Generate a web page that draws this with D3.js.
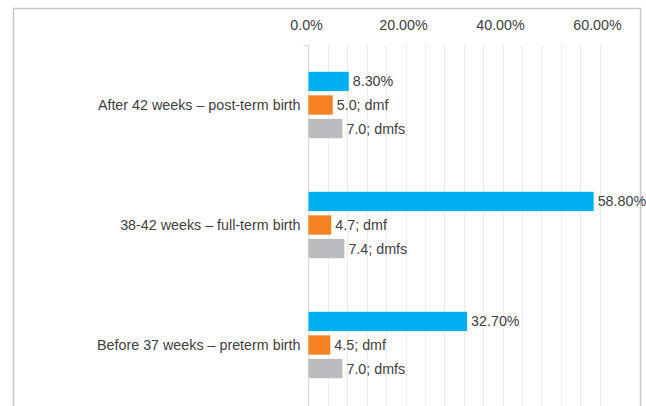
<!DOCTYPE html>
<html>
<head>
<meta charset="utf-8">
<script src="https://cdn.jsdelivr.net/npm/d3@7"></script>
<style>
body { margin:0; background:#fff; }
text { font-family: "Liberation Sans", Arial, sans-serif; fill:#404040; }
</style>
</head>
<body>
<svg width="646" height="406"></svg>
<script>
// categories top to bottom
var categories = ["After 42 weeks \u2013 post-term birth", "38-42 weeks \u2013 full-term birth", "Before 37 weeks \u2013 preterm birth"];
var series = ["share", "dmf", "dmfs"];
var shareValues = [8.3, 58.8, 32.7];
var dmfValues = [5.0, 4.7, 4.5];
var dmfsValues = [7.0, 7.4, 7.0];
var tickValues = [0, 20, 40, 60];
var tickLabels = ["0.0%", "20.00%", "40.00%", "60.00%"];
var colors = ["#00b0f0", "#f58220", "#bcbcc0"];

var svg = d3.select("svg");

// frame
svg.append("rect")
    .attr("x", 13.5).attr("y", 8.5)
    .attr("width", 627).attr("height", 420)
    .attr("fill", "none")
    .attr("stroke", "#c8c8cc")
    .attr("stroke-width", 1.5);

var x = d3.scaleLinear().domain([0, 60]).range([308.5, 599.5]);
var y = d3.scaleBand().domain(categories).range([45, 405]);
var inner = d3.scaleBand().domain(series).range([-33.2, 33.2]).paddingInner(0.18);

// gridlines every 4%
var g = svg.append("g");
g.selectAll("line.grid")
    .data(d3.range(4, 61, 4))
    .enter().append("line")
    .attr("class", "grid")
    .attr("x1", function(d) { return Math.round(x(d)) + 0.5; })
    .attr("x2", function(d) { return Math.round(x(d)) + 0.5; })
    .attr("y1", 45).attr("y2", 406)
    .attr("stroke", "#ececec");

g.append("line")
    .attr("x1", x(0)).attr("x2", x(0))
    .attr("y1", 45).attr("y2", 406)
    .attr("stroke", "#d9d9d9");
g.append("line")
    .attr("x1", x(0) - 5).attr("x2", x(0))
    .attr("y1", 45.5).attr("y2", 45.5)
    .attr("stroke", "#d9d9d9");

// top axis labels
svg.selectAll("text.tick")
    .data(tickValues)
    .enter().append("text")
    .attr("class", "tick")
    .attr("x", function(d) { return x(d) - 2; })
    .attr("y", 30)
    .attr("text-anchor", "middle")
    .style("font-size", "14.3px")
    .text(function(d, i) { return tickLabels[i]; });

// category labels
svg.selectAll("text.cat")
    .data(categories)
    .enter().append("text")
    .attr("class", "cat")
    .attr("x", 300.5)
    .attr("y", function(d) { return y(d) + y.bandwidth() / 2; })
    .attr("dy", "0.35em")
    .attr("text-anchor", "end")
    .style("font-size", "14.3px")
    .text(function(d) { return d; });

var rows = [];
categories.forEach(function(c, i) {
    rows.push({cat: c, s: "share", v: shareValues[i], label: shareValues[i].toFixed(2) + "%"});
    rows.push({cat: c, s: "dmf", v: dmfValues[i], label: dmfValues[i].toFixed(1) + "; dmf"});
    rows.push({cat: c, s: "dmfs", v: dmfsValues[i], label: dmfsValues[i].toFixed(1) + "; dmfs"});
});

function barY(d) { return y(d.cat) + y.bandwidth() / 2 + inner(d.s); }

svg.selectAll("rect.bar")
    .data(rows)
    .enter().append("rect")
    .attr("class", "bar")
    .attr("x", x(0))
    .attr("y", barY)
    .attr("width", function(d) { return x(d.v) - x(0); })
    .attr("height", inner.bandwidth())
    .attr("fill", function(d) { return colors[series.indexOf(d.s)]; });

svg.selectAll("text.val")
    .data(rows)
    .enter().append("text")
    .attr("class", "val")
    .attr("x", function(d) { return x(d.v) + 4; })
    .attr("y", function(d) { return barY(d) + inner.bandwidth() / 2; })
    .attr("dy", "0.35em")
    .style("font-size", "14.3px")
    .text(function(d) { return d.label; });
</script>
</body>
</html>
